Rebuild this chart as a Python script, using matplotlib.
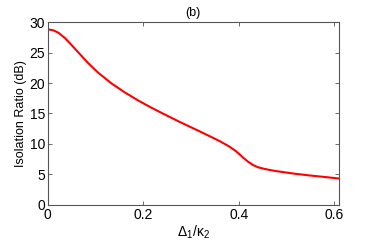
import matplotlib
matplotlib.use("Agg")
from matplotlib import pyplot as plt

plt.rcParams['font.family'] = ['Liberation Sans', 'DejaVu Sans']
plt.rcParams['mathtext.fontset'] = 'custom'
plt.rcParams['mathtext.rm'] = 'Liberation Sans'
plt.rcParams['mathtext.it'] = 'Liberation Sans'

# values
detuning = [0.0, 0.011, 0.022, 0.036, 0.050, 0.064, 0.084, 0.105, 0.133, 0.161,
            0.189, 0.216, 0.235, 0.276, 0.318, 0.360, 0.381, 0.393, 0.402,
            0.410, 0.420, 0.430, 0.440, 0.451, 0.465, 0.479, 0.514, 0.549,
            0.584, 0.61]
isolation = [28.8, 28.65, 28.25, 27.35, 26.2, 25.0, 23.3, 21.72, 19.95, 18.47,
             17.15, 15.99, 15.23, 13.63, 12.08, 10.48, 9.55, 8.9, 8.3,
             7.72, 7.07, 6.56, 6.2, 5.97, 5.74, 5.55, 5.16, 4.84,
             4.56, 4.34]

fig = plt.figure(figsize=(3.74, 2.42), dpi=100)
ax = fig.add_axes([0.128, 0.153, 0.778, 0.756])
ax.plot(detuning, isolation, color="red", lw=1.5)

ax.set_xlim(0, 0.61)
ax.set_ylim(0, 30)
ax.set_xticks([0, 0.2, 0.4, 0.6])
ax.set_xticklabels(["0", "0.2", "0.4", "0.6"])
ax.set_yticks([0, 5, 10, 15, 20, 25, 30])
ax.tick_params(direction="in", top=True, right=True, length=3, width=0.6,
               color="#555555", labelsize=10, pad=2)
for s in ax.spines.values():
    s.set_color("#555555")
    s.set_linewidth(0.8)

ax.set_xlabel(r"$\Delta_1/\kappa_2$", fontsize=10, labelpad=1)
ax.set_ylabel("Isolation Ratio (dB)", fontsize=9, labelpad=2)
ax.set_title("(b)", fontsize=9, pad=4)

fig.savefig("out.png", dpi=100)
